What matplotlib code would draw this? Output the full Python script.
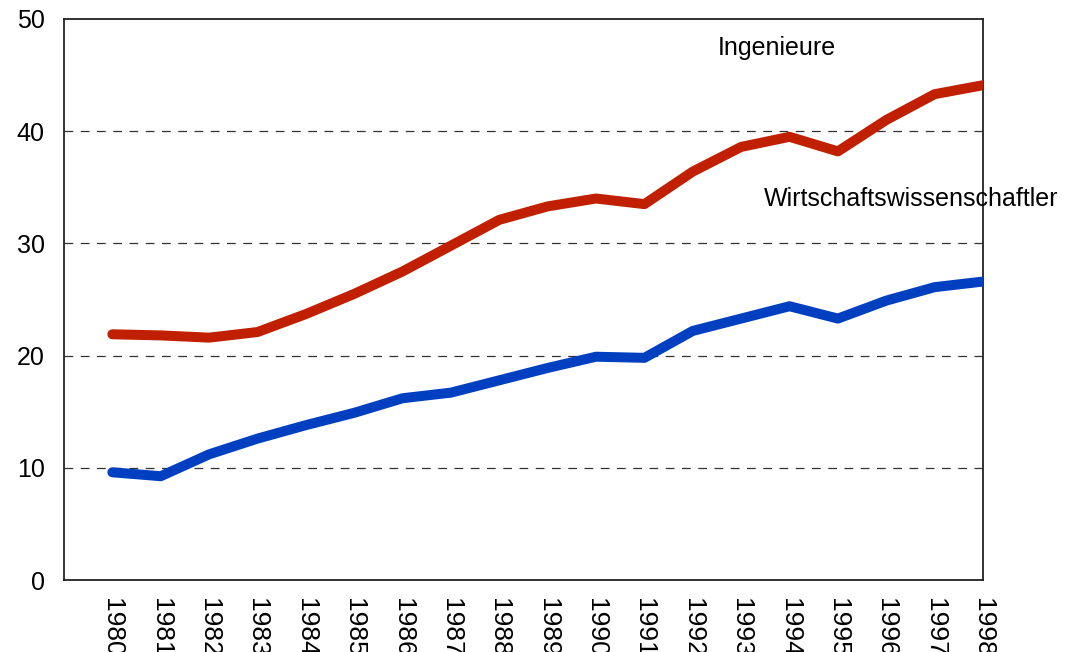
import matplotlib
matplotlib.use("Agg")
import matplotlib.pyplot as plt

years = [str(y) for y in range(1980, 1999)]
ingenieure = [21.9, 21.8, 21.6, 22.1, 23.7, 25.5, 27.5, 29.8, 32.1, 33.3, 34.0, 33.5,
              36.4, 38.6, 39.5, 38.2, 41.0, 43.3, 44.1]
wirtschaft = [9.6, 9.25, 11.2, 12.6, 13.8, 14.9, 16.2, 16.7, 17.8, 18.9, 19.9, 19.8,
              22.2, 23.3, 24.4, 23.3, 24.9, 26.1, 26.6]
yticks = [0, 10, 20, 30, 40, 50]

plt.rcParams['font.family'] = ['Liberation Sans', 'DejaVu Sans']

fig = plt.figure(figsize=(10.71, 6.52), dpi=100)
ax = fig.add_axes([64/1071, 1-580/652, (983-64)/1071, (580-19)/652])

x = list(range(len(years)))
for yv in yticks[1:-1]:
    ax.axhline(yv, color='#333333', lw=0.9, dashes=(7, 6), zorder=1)

ax.plot(x, ingenieure, color='#C02000', lw=7.2, solid_capstyle='round',
        solid_joinstyle='round', zorder=3)
ax.plot(x, wirtschaft, color='#0040C0', lw=7.2, solid_capstyle='round',
        solid_joinstyle='round', zorder=3)

ax.set_xlim(-1, len(years) - 1)
ax.set_ylim(0, 50)
ax.set_yticks(yticks)
ax.set_yticklabels([str(v) for v in yticks], fontsize=18)
ax.set_xticks(x)
ax.set_xticklabels(years, rotation=270, fontsize=19, va='top', ha='center')
ax.tick_params(axis='both', length=0)
ax.tick_params(axis='y', pad=14)
ax.tick_params(axis='x', pad=13)
for s in ax.spines.values():
    s.set_linewidth(1.3)
    s.set_color('#222222')

ax.text(12.52, 47.4, 'Ingenieure', fontsize=18, va='center', ha='left')
ax.text(13.47, 34.0, 'Wirtschaftswissenschaftler', fontsize=18, va='center',
        ha='left', clip_on=False)

fig.savefig('out.png', dpi=100)
